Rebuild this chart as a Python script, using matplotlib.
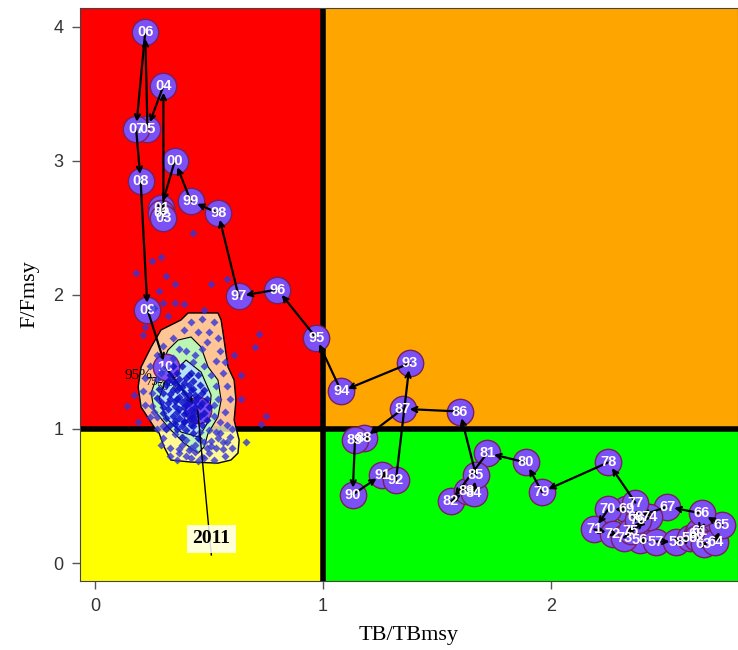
import matplotlib
matplotlib.use('Agg')
from matplotlib import pyplot as plt
from matplotlib.patches import Rectangle, Polygon

# stock trajectory, 1956-2011
years = ['56', '57', '58', '59', '60', '61', '62', '63', '64', '65',
         '66', '67', '68', '69', '70', '71', '72', '73', '74', '75',
         '76', '77', '78', '79', '80', '81', '82', '83', '84', '85',
         '86', '87', '88', '89', '90', '91', '92', '93', '94', '95',
         '96', '97', '98', '99', '00', '01', '02', '03', '04', '05',
         '06', '07', '08', '09', '10', '11']
tb = [2.39, 2.46, 2.55, 2.61, 2.64, 2.65, 2.64, 2.67, 2.72, 2.75,
      2.66, 2.51, 2.37, 2.33, 2.25, 2.19, 2.27, 2.32, 2.43, 2.35,
      2.38, 2.37, 2.25, 1.96, 1.89, 1.72, 1.56, 1.63, 1.66, 1.67,
      1.60, 1.35, 1.18, 1.14, 1.13, 1.26, 1.32, 1.38, 1.08, 0.97,
      0.80, 0.63, 0.54, 0.42, 0.35, 0.29, 0.29, 0.30, 0.30, 0.23,
      0.22, 0.18, 0.20, 0.23, 0.31, 0.45]
f = [0.17, 0.16, 0.16, 0.19, 0.22, 0.24, 0.19, 0.14, 0.16, 0.28,
     0.37, 0.42, 0.34, 0.40, 0.40, 0.25, 0.22, 0.19, 0.34, 0.24,
     0.32, 0.45, 0.75, 0.53, 0.75, 0.82, 0.46, 0.54, 0.52, 0.66,
     1.13, 1.15, 0.93, 0.92, 0.51, 0.66, 0.62, 1.49, 1.28, 1.68,
     2.04, 1.99, 2.61, 2.70, 3.00, 2.65, 2.61, 2.57, 3.56, 3.24,
     3.96, 3.24, 2.85, 1.89, 1.46, 1.14]

# bootstrap cloud for the last year (outer ring and outliers)
boot_x = [0.40, 0.44, 0.48, 0.51, 0.53, 0.54, 0.52, 0.50, 0.48, 0.44, 0.40, 0.35, 0.30, 0.27, 0.25,
          0.25, 0.27, 0.30, 0.34, 0.37, 0.52, 0.46, 0.29, 0.26, 0.43, 0.49, 0.41, 0.53, 0.55, 0.47,
          0.42, 0.47, 0.52, 0.50, 0.54, 0.55, 0.45, 0.39, 0.34, 0.30, 0.27, 0.24, 0.22, 0.21, 0.22,
          0.24, 0.27, 0.30, 0.33, 0.37, 0.42, 0.47, 0.52, 0.57, 0.60, 0.59, 0.56, 0.58, 0.57, 0.59,
          0.58, 0.56, 0.57, 0.53, 0.38, 0.55, 0.60, 0.53, 0.49, 0.36, 0.44, 0.50, 0.56, 0.40, 0.46,
          0.51, 0.33, 0.29, 0.54, 0.48, 0.42, 0.37, 0.45, 0.58, 0.51,
          0.18, 0.25, 0.29, 0.31, 0.35, 0.28, 0.30, 0.35, 0.39, 0.51, 0.58, 0.48, 0.43, 0.21, 0.70,
          0.64, 0.14, 0.75, 0.73, 0.17, 0.72, 0.64, 0.19, 0.66, 0.22, 0.32, 0.26, 0.61]
boot_y = [1.58, 1.55, 1.47, 1.40, 1.32, 1.22, 1.10, 0.99, 0.90, 0.88, 0.92, 0.96, 1.02, 1.09, 1.17,
          1.27, 1.37, 1.45, 1.53, 1.60, 1.18, 0.98, 1.42, 1.13, 1.50, 0.86, 0.84, 0.98, 1.05, 1.60,
          1.80, 1.82, 1.80, 1.72, 1.68, 1.58, 1.72, 1.74, 1.68, 1.62, 1.55, 1.47, 1.38, 1.28, 1.18,
          1.09, 1.00, 0.93, 0.86, 0.82, 0.78, 0.79, 0.77, 0.80, 0.86, 0.94, 0.90, 1.03, 1.13, 1.22,
          1.32, 1.42, 1.50, 0.86, 0.88, 0.97, 1.00, 1.51, 1.65, 0.77, 0.83, 0.82, 0.85, 0.80, 0.92,
          0.91, 0.80, 0.88, 0.93, 0.78, 0.86, 0.85, 0.76, 0.90, 0.87,
          2.16, 2.25, 2.28, 2.14, 2.08, 2.03, 1.94, 1.94, 1.93, 2.08, 2.12, 1.89, 2.46, 1.70, 1.61,
          1.40, 1.17, 1.10, 1.04, 1.25, 1.71, 1.22, 1.05, 0.90, 1.76, 1.84, 1.90, 1.55]

# dense core of the bootstrap cloud
core_x = [0.33, 0.36, 0.40, 0.43, 0.46, 0.31, 0.35, 0.38, 0.42, 0.47, 0.49, 0.30, 0.33, 0.37, 0.40,
          0.44, 0.46, 0.29, 0.32, 0.35, 0.39, 0.42, 0.48, 0.30, 0.34, 0.37, 0.41, 0.44, 0.47, 0.33,
          0.36, 0.40, 0.43, 0.45, 0.38, 0.31, 0.36, 0.41, 0.44, 0.39, 0.35, 0.27, 0.28, 0.50, 0.49,
          0.42, 0.38, 0.34, 0.45, 0.32, 0.34, 0.37, 0.39, 0.41, 0.43, 0.45, 0.36, 0.38, 0.40, 0.42,
          0.44, 0.33, 0.35, 0.37, 0.39, 0.41, 0.43, 0.46, 0.32, 0.34, 0.36, 0.38, 0.40, 0.42, 0.44,
          0.37, 0.39, 0.41, 0.35, 0.43, 0.30, 0.47, 0.31, 0.48, 0.39]
core_y = [1.40, 1.42, 1.38, 1.36, 1.33, 1.33, 1.34, 1.31, 1.29, 1.27, 1.22, 1.27, 1.26, 1.24, 1.22,
          1.21, 1.17, 1.20, 1.19, 1.17, 1.16, 1.14, 1.12, 1.12, 1.10, 1.08, 1.07, 1.06, 1.03, 1.03,
          1.00, 0.99, 0.97, 0.93, 0.94, 1.08, 1.29, 1.33, 1.25, 1.11, 1.21, 1.23, 1.30, 1.16, 1.07,
          1.42, 1.47, 1.47, 1.40, 1.15, 1.36, 1.37, 1.27, 1.25, 1.30, 1.24, 1.13, 1.20, 1.18, 1.10,
          1.13, 1.22, 1.04, 1.15, 1.06, 1.19, 1.02, 1.10, 1.36, 1.29, 1.22, 1.02, 1.12, 1.03, 1.16,
          1.31, 1.34, 1.40, 1.06, 1.09, 1.16, 1.19, 1.00, 1.29, 1.05]

# density contours of the bootstrap cloud
c95_x = [0.408, 0.539, 0.553, 0.566, 0.583, 0.610, 0.618, 0.610, 0.632, 0.627, 0.596, 0.539,
         0.421, 0.333, 0.303, 0.281, 0.259, 0.202, 0.189, 0.202, 0.246, 0.289, 0.377]
c95_y = [1.865, 1.865, 1.813, 1.663, 1.462, 1.365, 1.215, 1.066, 0.917, 0.820, 0.768, 0.745,
         0.753, 0.768, 0.865, 0.969, 1.014, 1.163, 1.313, 1.462, 1.611, 1.738, 1.813]
c75_x = [0.421, 0.465, 0.496, 0.539, 0.553, 0.539, 0.496, 0.478, 0.452, 0.390, 0.320, 0.259,
         0.246, 0.276, 0.320, 0.364]
c75_y = [1.686, 1.611, 1.462, 1.365, 1.215, 1.089, 0.969, 0.865, 0.820, 0.895, 1.014, 1.141,
         1.268, 1.417, 1.589, 1.663]
c50_x = [0.399, 0.465, 0.509, 0.500, 0.456, 0.377, 0.311, 0.281, 0.311]
c50_y = [1.514, 1.424, 1.253, 1.066, 0.939, 0.977, 1.081, 1.230, 1.365]

fig = plt.figure(figsize=(7.38, 6.5), dpi=100)
ax = fig.add_axes([0.1084, 0.1062, 0.8916, 0.8815])
ax.set_xlim(-0.066, 2.82)
ax.set_ylim(-0.134, 4.14)

# kobe quadrants
ax.add_patch(Rectangle((-1, -1), 2, 2, color='#FFFF00', zorder=0))
ax.add_patch(Rectangle((1, -1), 5, 2, color='#00FF00', zorder=0))
ax.add_patch(Rectangle((-1, 1), 2, 5, color='#FF0000', zorder=0))
ax.add_patch(Rectangle((1, 1), 5, 5, color='#FFA500', zorder=0))
ax.axvline(1, color='black', lw=4, zorder=1)
ax.axhline(1, color='black', lw=4, zorder=1)

ax.add_patch(Polygon(list(zip(c95_x, c95_y)), closed=True, facecolor='#FFF8BC', alpha=0.8,
                     edgecolor='none', zorder=1.5))
ax.add_patch(Polygon(list(zip(c95_x, c95_y)), closed=True, fill=False, edgecolor='black',
                     lw=1, zorder=1.6))
ax.add_patch(Polygon(list(zip(c75_x, c75_y)), closed=True, facecolor='#BDF5B5',
                     edgecolor='black', lw=0.8, zorder=1.7))
ax.add_patch(Polygon(list(zip(c50_x, c50_y)), closed=True, facecolor='#B5E3F5',
                     edgecolor='black', lw=0.8, zorder=1.8))
ax.text(0.13, 1.37, '95%', fontsize=11, family='Liberation Serif', zorder=1.9)
ax.text(0.22, 1.33, '75%', fontsize=9, family='Liberation Serif', zorder=1.9)
ax.text(0.27, 1.29, '50%', fontsize=9, family='Liberation Serif', zorder=1.9)

# trajectory
ax.plot(tb, f, 'o', ms=19, mfc='#7B50F5', mec='#7A1F5C', mew=1, zorder=3)
for i in range(len(tb) - 1):
    ax.annotate('', xy=(tb[i + 1], f[i + 1]), xytext=(tb[i], f[i]),
                arrowprops=dict(arrowstyle='->', lw=1.6, color='black',
                                shrinkA=0, shrinkB=5, mutation_scale=9),
                zorder=4)
for i in range(len(tb) - 1):
    ax.text(tb[i], f[i], years[i], color='white', fontsize=10.5, fontweight='bold',
            family='Liberation Sans', ha='center', va='center', zorder=5)

# bootstrap points
ax.plot(boot_x, boot_y, 'D', ms=3.6, color='#3535D8', alpha=0.8, mec='none', zorder=6)
ax.plot(core_x, core_y, 'D', ms=4.2, color='#1010C8', alpha=0.85, mec='none', zorder=6)

# last year label
ax.plot([tb[-1], 0.51], [f[-1], 0.06], color='black', lw=1, zorder=6)
ax.text(0.51, 0.18, '2011', fontsize=14, fontweight='bold', family='Liberation Serif',
        ha='center', va='center', zorder=7,
        bbox=dict(facecolor='white', edgecolor='none', alpha=0.85, pad=4))

ax.set_xticks([0, 1, 2])
ax.set_yticks([0, 1, 2, 3, 4])
ax.tick_params(direction='out', length=6, width=1, colors='#555555', labelsize=13,
               labelcolor='#333333', pad=6)
for lab in ax.get_xticklabels() + ax.get_yticklabels():
    lab.set_family('Liberation Sans')
for s in ax.spines.values():
    s.set_color('#444444')
ax.set_xlabel('TB/TBmsy', fontsize=16, family='Liberation Serif', labelpad=8)
ax.set_ylabel('F/Fmsy', fontsize=16, family='Liberation Serif', labelpad=10)

fig.savefig('out.png', dpi=100)
